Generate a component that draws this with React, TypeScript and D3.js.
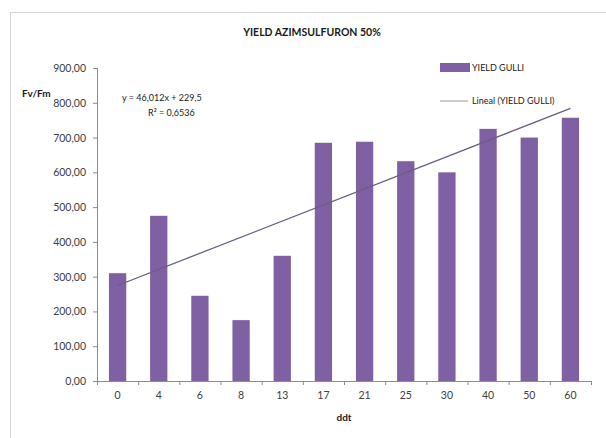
import React from "react";
import * as d3 from "d3";

const categories = ["0", "4", "6", "8", "13", "17", "21", "25", "30", "40", "50", "60"];
const yieldGulli = [310, 475, 245, 175, 360, 685, 688, 632, 600, 725, 700, 757];
const yTicks = [0, 100, 200, 300, 400, 500, 600, 700, 800, 900];
const title = "YIELD AZIMSULFURON 50%";
const seriesName = "YIELD GULLI";
const trendName = "Lineal (YIELD GULLI)";
const equationText = "y = 46,012x + 229,5";
const r2Text = "R² = 0,6536";

const W = 606;
const H = 438;
const left = 97;
const right = 591;
const top = 68;
const bottom = 381;
const FONT = "Lato, 'Open Sans', sans-serif";
const BAR = "#7f60a2";
const TREND = "#6d5d84";
const AXIS = "#8c8c8c";
const TEXT = "#404040";

export default function App() {
  const x = d3.scaleBand<string>().domain(categories).range([left, right]).paddingInner(0.58).paddingOuter(0.29);
  const y = d3.scaleLinear().domain([0, 900]).range([bottom, top]);
  const fmt = (v: number) => d3.format(".2f")(v).replace(".", ",");

  // linear regression on x = 1..n
  const xs = yieldGulli.map((_, i) => i + 1);
  const mx = d3.mean(xs)!;
  const my = d3.mean(yieldGulli)!;
  const slope = d3.sum(xs.map((xi, i) => (xi - mx) * (yieldGulli[i] - my))) / d3.sum(xs.map((xi) => (xi - mx) ** 2));
  const intercept = my - slope * mx;
  const cx = (i: number) => x(categories[i])! + x.bandwidth() / 2;
  const trendPts: [number, number][] = [0, categories.length - 1].map((i) => [cx(i), y(intercept + slope * (i + 1))]);
  const line = d3.line();

  const step = x.step();
  const bounds = categories.map((_, i) => left + i * ((right - left) / categories.length));
  bounds.push(right);

  return (
    <svg width={W} height={H} style={{ position: "absolute", left: 0, top: 0, background: "#fff" }} fontFamily={FONT}>
      <rect x={10.5} y={12.5} width={640} height={460} fill="#fff" stroke="#d4d4d4" strokeWidth={1} />
      <text x={312} y={36} textAnchor="middle" fontSize={10.5} fontWeight="bold" fill="#1a1a1a">{title}</text>

      {/* y axis */}
      <line x1={left + 0.5} x2={left + 0.5} y1={top} y2={bottom} stroke={AXIS} />
      {yTicks.map((t) => (
        <g key={t}>
          <line x1={left - 4} x2={left} y1={y(t) + 0.5} y2={y(t) + 0.5} stroke={AXIS} />
          <text x={86} y={y(t) + 4} textAnchor="end" fontSize={10.5} fill={TEXT}>{fmt(t)}</text>
        </g>
      ))}
      <text x={22} y={97} fontSize={10} fontWeight="bold" fill="#1a1a1a">Fv/Fm</text>

      {/* bars */}
      {yieldGulli.map((v, i) => (
        <rect key={i} x={x(categories[i])} y={y(v)} width={x.bandwidth()} height={y(0) - y(v)} fill={BAR} />
      ))}

      {/* x axis */}
      <line x1={left} x2={right} y1={bottom + 0.5} y2={bottom + 0.5} stroke={AXIS} />
      {bounds.map((b, i) => (
        <line key={i} x1={b + 0.5} x2={b + 0.5} y1={bottom} y2={bottom + 4} stroke={AXIS} />
      ))}
      {categories.map((c, i) => (
        <text key={c} x={cx(i)} y={399} textAnchor="middle" fontSize={10.5} fill={TEXT}>{c}</text>
      ))}
      <text x={344} y={421} textAnchor="middle" fontSize={10} fontWeight="bold" fill="#1a1a1a">ddt</text>

      {/* trend */}
      <path d={line(trendPts)!} stroke={TREND} strokeWidth={1.3} fill="none" />
      <text x={122} y={101} fontSize={9} fill="#1a1a1a">{equationText}</text>
      <text x={148} y={116} fontSize={9} fill="#1a1a1a">{r2Text}</text>

      {/* legend */}
      <rect x={440} y={63} width={30} height={9} fill={BAR} />
      <text x={472} y={71} fontSize={9} fill="#1a1a1a">{seriesName}</text>
      <line x1={440} x2={468} y1={101} y2={101} stroke="#9a9a9a" strokeWidth={1} />
      <text x={472} y={104} fontSize={9} fill="#1a1a1a">{trendName}</text>
    </svg>
  );
}
